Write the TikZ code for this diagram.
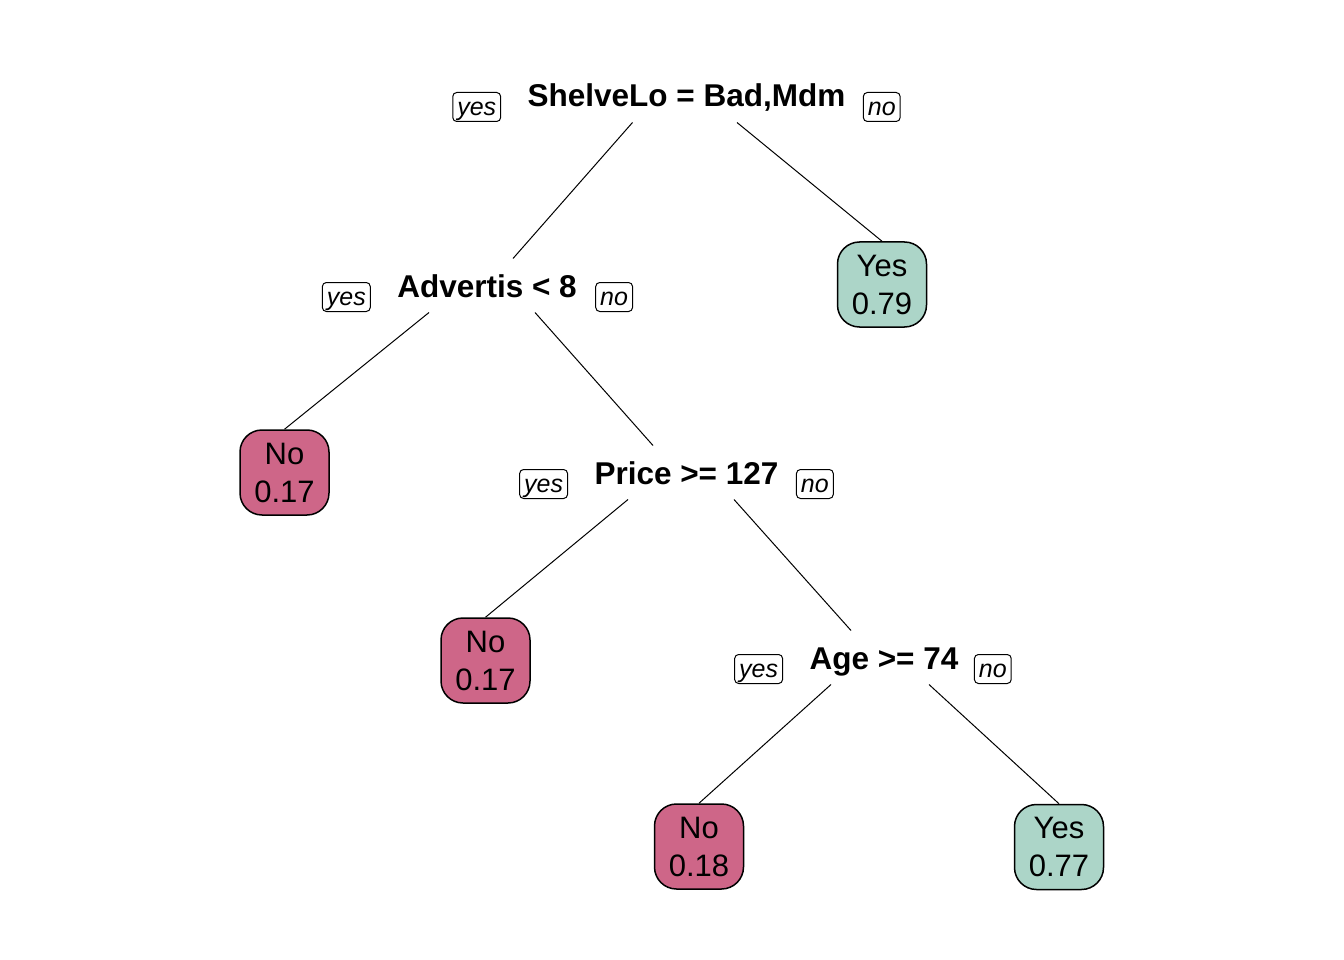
\documentclass[tikz,border=0pt]{standalone}
\usepackage{fontspec}
\setmainfont{Liberation Sans}
\usetikzlibrary{positioning}
\definecolor{leafno}{RGB}{206,102,136}
\definecolor{leafyes}{RGB}{172,213,200}
\tikzset{x=1pt,y=-1pt}
\tikzset{
    split/.style={anchor=base,inner xsep=0pt,inner ysep=12pt,text height=26pt,text depth=3pt,
        font=\bfseries\fontsize{31.5}{36}\selectfont},
    leaf/.style={draw,line width=1.5pt,rounded corners=22pt,minimum width=89pt,minimum height=85pt,
        align=center,inner sep=0pt,font=\fontsize{31}{38}\selectfont},
    yesno/.style={draw,line width=1pt,rounded corners=4pt,inner xsep=4.5pt,inner ysep=6pt,
        text height=17pt,text depth=0pt,font=\itshape\fontsize{25}{30}\selectfont}
}

\begin{document}
\begin{tikzpicture}[line width=1pt]
        \useasboundingbox (0,0) rectangle (1344,960);
        % splits
        \node[split] (shelve) at (686.5,107) {ShelveLo = Bad,Mdm};
        \node[yesno,left=26pt of shelve.base west] (shelve-yes) {yes};
        \node[yesno,right=17pt of shelve.base east] (shelve-no) {no};
        \node[split] (advert) at (487,297) {Advertis < 8};
        \node[yesno,left=26pt of advert.base west] (advert-yes) {yes};
        \node[yesno,right=18pt of advert.base east] (advert-no) {no};
        \node[split] (price) at (686.5,484) {Price >= 127};
        \node[yesno,left=26pt of price.base west] (price-yes) {yes};
        \node[yesno,right=17pt of price.base east] (price-no) {no};
        \node[split] (age) at (884,669) {Age >= 74};
        \node[yesno,left=26pt of age.base west] (age-yes) {yes};
        \node[yesno,right=15pt of age.base east] (age-no) {no};
        % leaves
        \node[leaf,fill=leafyes] (yes1) at (882,284.5) {Yes\\0.79};
        \node[leaf,fill=leafno] (no1) at (284.5,472.5) {No\\0.17};
        \node[leaf,fill=leafno] (no2) at (485.5,660.5) {No\\0.17};
        \node[leaf,fill=leafno] (no3) at (699,846.5) {No\\0.18};
        \node[leaf,fill=leafyes] (yes2) at (1059,847) {Yes\\0.77};
        \path
            ([xshift=-54pt]shelve.south) edge ([xshift=26pt]advert.north)
            ([xshift=50.5pt]shelve.south) edge (yes1.north)
            ([xshift=-58pt]advert.south) edge (no1.north)
            ([xshift=48pt]advert.south) edge ([xshift=-33.5pt]price.north)
            ([xshift=-58.5pt]price.south) edge (no2.north)
            ([xshift=47.5pt]price.south) edge ([xshift=-33pt]age.north)
            ([xshift=-53pt]age.south) edge (no3.north)
            ([xshift=45pt]age.south) edge (yes2.north);
\end{tikzpicture}
\end{document}
